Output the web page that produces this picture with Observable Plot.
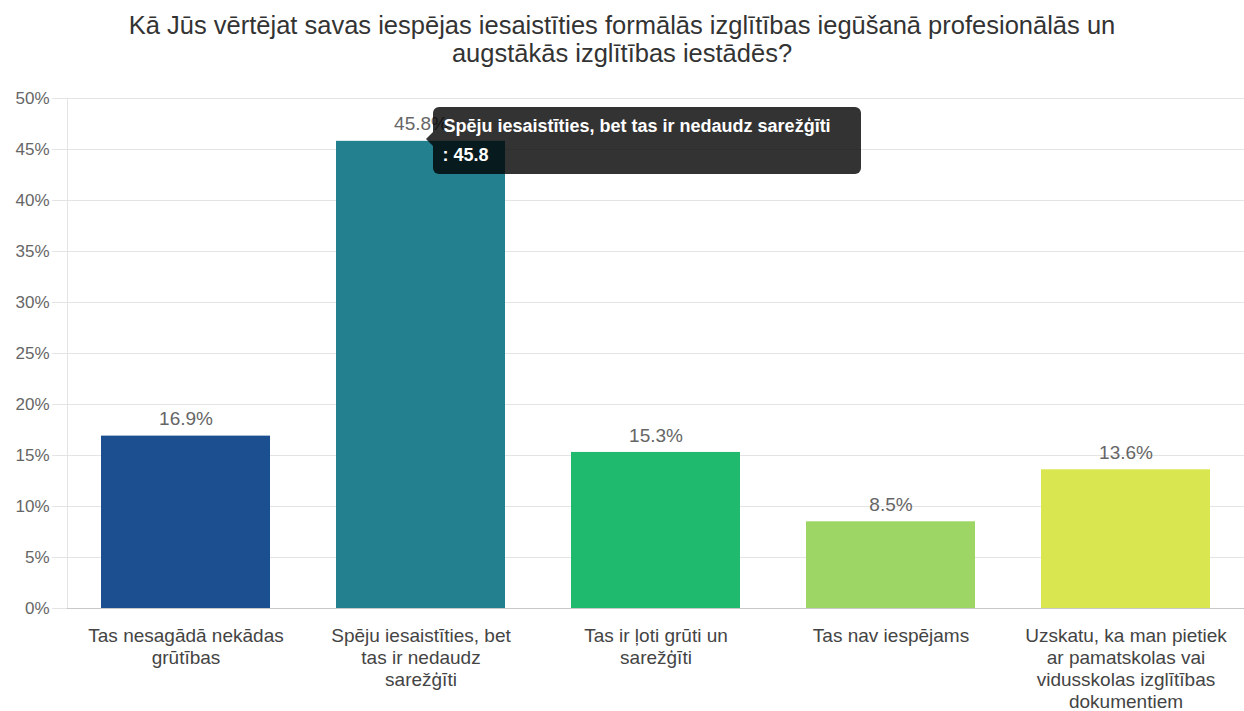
<!DOCTYPE html>
<html>
<head>
<meta charset="utf-8">
<script src="https://cdn.jsdelivr.net/npm/d3@7"></script>
<script src="https://cdn.jsdelivr.net/npm/@observablehq/plot@0.6"></script>
<style>
  html, body { margin: 0; padding: 0; background: #fff; }
  #wrap { position: relative; width: 1244px; height: 711px; font-family: "Liberation Sans", Arial, sans-serif; overflow: hidden; }
  #title { position: absolute; left: 0; top: 11px; width: 1244px; text-align: center; font-size: 25.5px; line-height: 28px; color: #333; }
  #chart { position: absolute; left: 0; top: 78px; }
  #tip { position: absolute; background: rgba(0,0,0,0.8); color: #fff; border-radius: 6px; font-weight: bold; font-size: 18px; padding: 8px 30px 8px 11px; white-space: nowrap; }
  #tip .t { line-height: 22px; margin-bottom: 7px; }
  #tip .b { line-height: 22px; margin-left: -1px; }
  #tip .caret { position: absolute; left: -7px; width: 0; height: 0; border-top: 7px solid transparent; border-bottom: 7px solid transparent; border-right: 7px solid rgba(0,0,0,0.8); }
</style>
</head>
<body>
<div id="wrap">
  <div id="title"></div>
  <div id="chart"></div>
</div>
<script>
const titleLines = ["Kā Jūs vērtējat savas iespējas iesaistīties formālās izglītības iegūšanā profesionālās un", "augstākās izglītības iestādēs?"];
const categories = [
  "Tas nesagādā nekādas grūtības",
  "Spēju iesaistīties, bet tas ir nedaudz sarežģīti",
  "Tas ir ļoti grūti un sarežģīti",
  "Tas nav iespējams",
  "Uzskatu, ka man pietiek ar pamatskolas vai vidusskolas izglītības dokumentiem"
];
const wrappedLabels = [
  "Tas nesagādā nekādas\ngrūtības",
  "Spēju iesaistīties, bet\ntas ir nedaudz\nsarežģīti",
  "Tas ir ļoti grūti un\nsarežģīti",
  "Tas nav iespējams",
  "Uzskatu, ka man pietiek\nar pamatskolas vai\nvidusskolas izglītības\ndokumentiem"
];
const values = [16.9, 45.8, 15.3, 8.5, 13.6];
const colors = ["#1b4f90", "#23818f", "#1fba6d", "#9dd664", "#dae650"];
const yTicks = [0, 5, 10, 15, 20, 25, 30, 35, 40, 45, 50];
const tooltipIndex = 1;

document.getElementById("title").innerHTML = titleLines.join("<br>");

const data = categories.map((c, i) => ({cat: c, label: wrappedLabels[i], value: values[i], color: colors[i]}));

const chart = Plot.plot({
  width: 1244,
  height: 633,
  marginLeft: 67,
  marginRight: 0,
  marginTop: 20,
  marginBottom: 103,
  style: {fontFamily: "Liberation Sans, Arial, sans-serif", background: "#fff"},
  x: {domain: categories, paddingInner: 0.28, paddingOuter: 0.14, axis: null},
  y: {domain: [0, 50], axis: null},
  marks: [
    Plot.gridY(yTicks, {stroke: "#e4e4e4", strokeOpacity: 1}),
    Plot.axisY(yTicks, {label: null, tickSize: 15, tickPadding: 3, stroke: "#e4e4e4", fill: "#666", fontSize: 17, tickFormat: d => d + "%"}),
    Plot.frame({anchor: "left", stroke: "#e4e4e4"}),
    Plot.barY(data, {x: "cat", y: "value", fill: "color"}),
    Plot.ruleY([0], {stroke: "#c8c8c8"}),
    Plot.text(data, {x: "cat", y: "value", text: d => d.value.toFixed(1) + "%", dy: -17, lineAnchor: "middle", fontSize: 19, fill: "#666"}),
    Plot.text(data, {x: "cat", text: "label", frameAnchor: "bottom", lineAnchor: "top", dy: 18, fontSize: 19, lineHeight: 1.16, fill: "#444"})
  ]
});
document.getElementById("chart").appendChild(chart);

// tooltip overlay positioned through the chart's own scales
const xs = chart.scale("x"), ys = chart.scale("y");
const tipDatum = data[tooltipIndex];
const tipCx = xs.apply(tipDatum.cat) + xs.bandwidth / 2;
const tipTop = ys.apply(tipDatum.value) + 78;
const tip = document.createElement("div");
tip.id = "tip";
tip.innerHTML = `<div class="caret"></div><div class="t">${tipDatum.cat}</div><div class="b">: ${tipDatum.value}</div>`;
tip.style.left = (tipCx + 12) + "px";
tip.style.top = (tipTop - 34) + "px";
document.getElementById("wrap").appendChild(tip);
tip.querySelector(".caret").style.top = (32 - 7) + "px";
</script>
</body>
</html>
